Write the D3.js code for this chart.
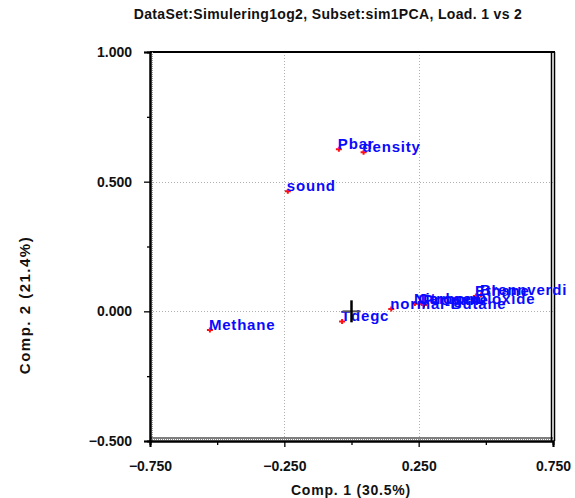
<!DOCTYPE html>
<html>
<head>
<meta charset="utf-8">
<script src="https://cdn.jsdelivr.net/npm/d3@7"></script>
<style>
  html, body { margin: 0; padding: 0; background: #fff; }
  svg { display: block; font-family: "Liberation Sans", Arial, sans-serif; }
</style>
</head>
<body>
<svg id="chart" width="575" height="498"></svg>
<script>
// PCA loadings, component 1 vs component 2
const variables = ["Pbar", "density", "sound", "Methane", "Tdegc", "normal-Butane",
                   "Nitrogen", "CarbonDioxide", "Propane", "Ethane", "Brennverdi"];
const comp1 = [-0.047, 0.045, -0.237, -0.527, -0.035, 0.148, 0.236, 0.252, 0.270, 0.463, 0.482];
const comp2 = [0.625, 0.613, 0.463, -0.072, -0.039, 0.009, 0.030, 0.029, 0.024, 0.059, 0.063];

const xMajorTicks = [-0.75, -0.25, 0.25, 0.75];
const xMinorTicks = [-0.5, 0, 0.5];
const yMajorTicks = [-0.5, 0, 0.5, 1.0];
const yMinorTicks = [-0.25, 0.25, 0.75];

const titleText = "DataSet:Simulering1og2, Subset:sim1PCA, Load. 1 vs 2";
const xTitle = "Comp. 1 (30.5%)";
const yTitle = "Comp. 2 (21.4%)";

const svg = d3.select("#chart");
const plotL = 150, plotR = 553, plotT = 52, plotB = 441;

const x = d3.scaleLinear().domain([-0.75, 0.75]).range([plotL, plotR]);
const y = d3.scaleLinear().domain([-0.5, 1.0]).range([plotB, plotT]);
const fmt = d3.format(".3f");

// dotted grid at interior major ticks
const grid = svg.append("g").attr("stroke", "#b0b0b0").attr("stroke-width", 1)
  .attr("stroke-dasharray", "1,2");
grid.selectAll("line.gx").data([-0.25, 0.25]).join("line").attr("class", "gx")
  .attr("x1", d => Math.round(x(d)) + 0.5).attr("x2", d => Math.round(x(d)) + 0.5)
  .attr("y1", plotT).attr("y2", plotB);
grid.selectAll("line.gy").data([0, 0.5]).join("line").attr("class", "gy")
  .attr("x1", plotL).attr("x2", plotR)
  .attr("y1", d => Math.round(y(d)) + 0.5).attr("y2", d => Math.round(y(d)) + 0.5);

// frame
const frame = svg.append("g").attr("fill", "none");
frame.append("line").attr("x1", plotL).attr("x2", plotR + 2).attr("y1", plotT).attr("y2", plotT)
  .attr("stroke", "#000").attr("stroke-width", 2);
frame.append("line").attr("x1", plotR - 1.5).attr("x2", plotR - 1.5).attr("y1", plotT).attr("y2", plotB)
  .attr("stroke", "#000").attr("stroke-width", 1.5);
frame.append("line").attr("x1", plotR + 1.5).attr("x2", plotR + 1.5).attr("y1", plotT).attr("y2", plotB)
  .attr("stroke", "#000").attr("stroke-width", 1.5);
frame.append("line").attr("x1", plotL).attr("x2", plotR).attr("y1", plotB - 3).attr("y2", plotB - 3)
  .attr("stroke", "#000").attr("stroke-width", 1.2);
frame.append("line").attr("x1", plotL).attr("x2", plotR).attr("y1", plotB - 1.5).attr("y2", plotB - 1.5)
  .attr("stroke", "#888").attr("stroke-width", 1).attr("stroke-dasharray", "1,1");
frame.append("line").attr("x1", plotL + 2.5).attr("x2", plotL + 2.5).attr("y1", plotT).attr("y2", plotB)
  .attr("stroke", "#999").attr("stroke-width", 1).attr("stroke-dasharray", "1,1");

// axes
const yAxis = svg.append("g").attr("transform", `translate(${plotL},0)`)
  .call(d3.axisLeft(y).tickValues(yMajorTicks).tickFormat(fmt).tickSize(6).tickPadding(12));
const yMinor = svg.append("g").attr("transform", `translate(${plotL},0)`)
  .call(d3.axisLeft(y).tickValues(yMinorTicks).tickFormat("").tickSize(3));
const xAxis = svg.append("g").attr("transform", `translate(0,${plotB})`)
  .call(d3.axisBottom(x).tickValues(xMajorTicks).tickFormat(fmt).tickSize(6).tickPadding(14));
const xMinor = svg.append("g").attr("transform", `translate(0,${plotB})`)
  .call(d3.axisBottom(x).tickValues(xMinorTicks).tickFormat("").tickSize(4));

[yAxis, yMinor, xAxis, xMinor].forEach(g => {
  g.select(".domain").attr("stroke", "#000").attr("stroke-width", 2);
  g.selectAll(".tick line").attr("stroke", "#000").attr("stroke-width", 1.3);
  g.selectAll(".tick text").attr("fill", "#111").attr("font-size", 14)
    .attr("font-weight", "bold").attr("font-family", "Liberation Sans, Arial, sans-serif");
});

// titles
svg.append("text").attr("x", 328).attr("y", 19).attr("text-anchor", "middle")
  .attr("font-size", 14).attr("font-weight", "bold").attr("fill", "#111")
  .attr("letter-spacing", 0.35).text(titleText);
svg.append("text").attr("x", 351).attr("y", 495).attr("text-anchor", "middle")
  .attr("font-size", 14).attr("font-weight", "bold").attr("fill", "#111")
  .attr("letter-spacing", 0.8).text(xTitle);
svg.append("text").attr("transform", "translate(30,305) rotate(-90)").attr("text-anchor", "middle")
  .attr("font-size", 15).attr("font-weight", "bold").attr("fill", "#111")
  .attr("letter-spacing", 1.5).text(yTitle);

// loading points
const points = variables.map((name, i) => ({ name, c1: comp1[i], c2: comp2[i] }));

const marks = svg.append("g").attr("stroke", "#ff1010").attr("stroke-width", 2);
marks.selectAll("path").data(points).join("path")
  .attr("d", d => {
    const px = x(d.c1), py = y(d.c2);
    return `M${px - 3},${py}H${px + 3}M${px},${py - 2.5}V${py + 2.5}`;
  });

svg.append("g").selectAll("text").data(points).join("text")
  .attr("x", d => x(d.c1) - 1).attr("y", d => y(d.c2))
  .attr("font-size", 15).attr("font-weight", "bold").attr("letter-spacing", 0.8)
  .attr("fill", "#0a0aff").text(d => d.name);

// origin cross
const ox = x(0), oy = y(0);
svg.append("line").attr("x1", ox - 9).attr("x2", ox + 9).attr("y1", oy).attr("y2", oy)
  .attr("stroke", "#555").attr("stroke-width", 2);
svg.append("line").attr("x1", ox).attr("x2", ox).attr("y1", oy - 11).attr("y2", oy + 11)
  .attr("stroke", "#000").attr("stroke-width", 2.5);
</script>
</body>
</html>
